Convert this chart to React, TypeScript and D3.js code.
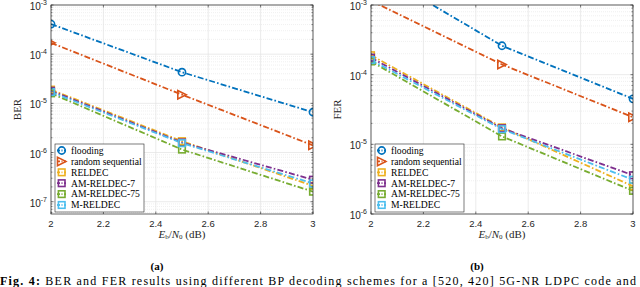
import * as d3 from "d3";

const EBN0 = [2, 2.5, 3];
const X_TICKS = [2, 2.2, 2.4, 2.6, 2.8, 3];

const SERIES_NAMES = ["flooding", "random sequential", "RELDEC", "AM-RELDEC-7", "AM-RELDEC-75", "M-RELDEC"];
const SERIES_COLORS = ["#0072BD", "#D95319", "#EDB120", "#7E2F8E", "#77AC30", "#4DBEEE"];
const SERIES_MARKERS = ["circle", "triangle", "square", "square", "square", "square"];

// BER values (left panel)
const berFlooding = [4.1e-4, 4.3e-5, 6.6e-6];
const berRandomSeq = [1.7e-4, 1.5e-5, 1.4e-6];
const berReldec = [1.9e-5, 1.7e-6, 2.1e-7];
const berAm7 = [1.8e-5, 1.6e-6, 2.8e-7];
const berAm75 = [1.6e-5, 1.15e-6, 1.6e-7];
const berMReldec = [1.7e-5, 1.55e-6, 2.35e-7];

// FER values (right panel)
const ferFlooding = [3.3e-3, 2.6e-4, 4.5e-5];
const ferRandomSeq = [1.15e-3, 1.4e-4, 2.45e-5];
const ferReldec = [1.9e-4, 1.75e-5, 2.5e-6];
const ferAm7 = [1.75e-4, 1.7e-5, 3.6e-6];
const ferAm75 = [1.55e-4, 1.3e-5, 2.15e-6];
const ferMReldec = [1.62e-4, 1.65e-5, 3.1e-6];

const BER_DECADES = [-7, -6, -5, -4, -3];
const FER_DECADES = [-6, -5, -4, -3];

const TOP = 5;
const BOTTOM = 214;
const FONT_TICK = "'Liberation Sans', Arial, sans-serif";
const FONT_TEXT = "'Liberation Serif', 'Times New Roman', serif";

type PanelProps = {
  id: string;
  left: number;
  right: number;
  yDomain: [number, number];
  decades: number[];
  series: number[][];
  ylabel: string;
  sub: string;
};

const Marker = ({ kind, x, y, color }: { kind: string; x: number; y: number; color: string }) => {
  if (kind === "circle") {
    return <circle cx={x} cy={y} r={3.6} fill="none" stroke={color} strokeWidth={1.6} />;
  }
  if (kind === "triangle") {
    const s = 4.2;
    return (
      <path
        d={`M${x + s},${y} L${x - s},${y - s} L${x - s},${y + s} Z`}
        fill="none"
        stroke={color}
        strokeWidth={1.6}
      />
    );
  }
  return <rect x={x - 3.3} y={y - 3.3} width={6.6} height={6.6} fill="none" stroke={color} strokeWidth={1.6} />;
};

const Panel = ({ id, left, right, yDomain, decades, series, ylabel, sub }: PanelProps) => {
  const xScale = d3.scaleLinear().domain([2, 3]).range([left, right]);
  const yScale = d3.scaleLog().domain(yDomain).range([BOTTOM, TOP]);

  const minor: number[] = [];
  const lo = Math.floor(Math.log10(yDomain[0]));
  for (let e = lo; e < -3; e++) {
    for (let m = 2; m <= 9; m++) {
      const v = m * Math.pow(10, e);
      if (v >= yDomain[0] && v <= yDomain[1]) minor.push(v);
    }
  }

  const line = d3
    .line<number>()
    .x((_, i) => xScale(EBN0[i]))
    .y((d) => yScale(d));

  const cx = (left + right) / 2;

  return (
    <g>
      <defs>
        <clipPath id={id}>
          <rect x={left} y={TOP} width={right - left} height={BOTTOM - TOP} />
        </clipPath>
      </defs>
      <rect x={left} y={TOP} width={right - left} height={BOTTOM - TOP} fill="#fff" />
      {/* grid */}
      {minor.map((v) => (
        <line key={"m" + v} x1={left} x2={right} y1={yScale(v)} y2={yScale(v)} stroke="#e6e6e6" strokeWidth={0.6} strokeDasharray="1,1" />
      ))}
      {decades.map((e) => (
        <line key={"d" + e} x1={left} x2={right} y1={yScale(Math.pow(10, e))} y2={yScale(Math.pow(10, e))} stroke="#e2e2e2" strokeWidth={0.7} />
      ))}
      {X_TICKS.map((t) => (
        <line key={"x" + t} x1={xScale(t)} x2={xScale(t)} y1={TOP} y2={BOTTOM} stroke="#e2e2e2" strokeWidth={0.7} />
      ))}
      {/* series */}
      <g clipPath={`url(#${id})`}>
        {series.map((s, i) => (
          <path
            key={i}
            d={line(s) || ""}
            fill="none"
            stroke={SERIES_COLORS[i]}
            strokeWidth={1.8}
            strokeDasharray="6,2.2,1.6,2.2"
          />
        ))}
        {series.map((s, i) =>
          s.map((v, j) => (
            <Marker key={i + "-" + j} kind={SERIES_MARKERS[i]} x={xScale(EBN0[j])} y={yScale(v)} color={SERIES_COLORS[i]} />
          ))
        )}
      </g>
      {/* axes box and ticks */}
      <rect x={left} y={TOP} width={right - left} height={BOTTOM - TOP} fill="none" stroke="#262626" strokeWidth={0.7} />
      {X_TICKS.map((t) => (
        <g key={"xt" + t}>
          <line x1={xScale(t)} x2={xScale(t)} y1={BOTTOM} y2={BOTTOM - 2.5} stroke="#262626" strokeWidth={0.6} />
          <line x1={xScale(t)} x2={xScale(t)} y1={TOP} y2={TOP + 2.5} stroke="#262626" strokeWidth={0.6} />
          <text x={xScale(t)} y={227} textAnchor="middle" fontFamily={FONT_TICK} fontSize={9.5} fill="#262626">
            {String(t)}
          </text>
        </g>
      ))}
      {minor.map((v) => (
        <g key={"mt" + v}>
          <line x1={left} x2={left + 1.5} y1={yScale(v)} y2={yScale(v)} stroke="#262626" strokeWidth={0.5} />
          <line x1={right} x2={right - 1.5} y1={yScale(v)} y2={yScale(v)} stroke="#262626" strokeWidth={0.5} />
        </g>
      ))}
      {decades.map((e) => (
        <g key={"yt" + e}>
          <line x1={left} x2={left + 2.5} y1={yScale(Math.pow(10, e))} y2={yScale(Math.pow(10, e))} stroke="#262626" strokeWidth={0.6} />
          <line x1={right} x2={right - 2.5} y1={yScale(Math.pow(10, e))} y2={yScale(Math.pow(10, e))} stroke="#262626" strokeWidth={0.6} />
          <text x={left - 4} y={yScale(Math.pow(10, e)) + 5} textAnchor="end" fontFamily={FONT_TICK} fontSize={10} fill="#262626">
            10
            <tspan dy={-5} fontSize={7}>{String(e)}</tspan>
          </text>
        </g>
      ))}
      {/* labels */}
      <text
        transform={`translate(${left - 30},${(TOP + BOTTOM) / 2}) rotate(-90)`}
        textAnchor="middle"
        fontFamily={FONT_TEXT}
        fontSize={11}
        fill="#262626"
      >
        {ylabel}
      </text>
      <text x={cx} y={237.5} textAnchor="middle" fontFamily={FONT_TEXT} fontSize={11} fill="#262626">
        <tspan fontStyle="italic">E</tspan>
        <tspan fontSize={7} dy={1.5}>b</tspan>
        <tspan dy={-1.5}>/</tspan>
        <tspan fontStyle="italic">N</tspan>
        <tspan fontSize={7} dy={1.5}>0</tspan>
        <tspan dy={-1.5}> (dB)</tspan>
      </text>
      <text x={cx - 25} y={270} textAnchor="middle" fontFamily={FONT_TEXT} fontSize={11} fontWeight="bold" fill="#000">
        {sub}
      </text>
      {/* legend */}
      <g>
        <rect x={left + 4} y={144} width={89} height={68} fill="#fff" stroke="#262626" strokeWidth={0.6} />
        {SERIES_NAMES.map((n, i) => {
          const ly = 150.5 + i * 10.9;
          return (
            <g key={n}>
              <line x1={left + 6} x2={left + 15} y1={ly} y2={ly} stroke={SERIES_COLORS[i]} strokeWidth={1.8} strokeDasharray="3,1.5,1,1.5" />
              <Marker kind={SERIES_MARKERS[i]} x={left + 10.7} y={ly} color={SERIES_COLORS[i]} />
              <text x={left + 20} y={ly + 3.3} fontFamily={FONT_TEXT} fontSize={9.6} fill="#000">
                {n}
              </text>
            </g>
          );
        })}
      </g>
    </g>
  );
};

export default function App() {
  const ber = [berFlooding, berRandomSeq, berReldec, berAm7, berAm75, berMReldec];
  const fer = [ferFlooding, ferRandomSeq, ferReldec, ferAm7, ferAm75, ferMReldec];
  return (
    <svg width={640} height={287} style={{ position: "absolute", left: 0, top: 0, background: "#fff" }}>
      <Panel id="clipA" left={51} right={313} yDomain={[Math.pow(10, -7.25), 1e-3]} decades={BER_DECADES} series={ber} ylabel="BER" sub="(a)" />
      <Panel id="clipB" left={371} right={633} yDomain={[1e-6, 1e-3]} decades={FER_DECADES} series={fer} ylabel="FER" sub="(b)" />
      <text x={0} y={285} fontFamily={FONT_TEXT} fontSize={12} fill="#000" textLength={636} lengthAdjust="spacing">
        <tspan fontWeight="bold">Fig. 4:</tspan> BER and FER results using different BP decoding schemes for a [520, 420] 5G-NR LDPC code and
      </text>
    </svg>
  );
}
